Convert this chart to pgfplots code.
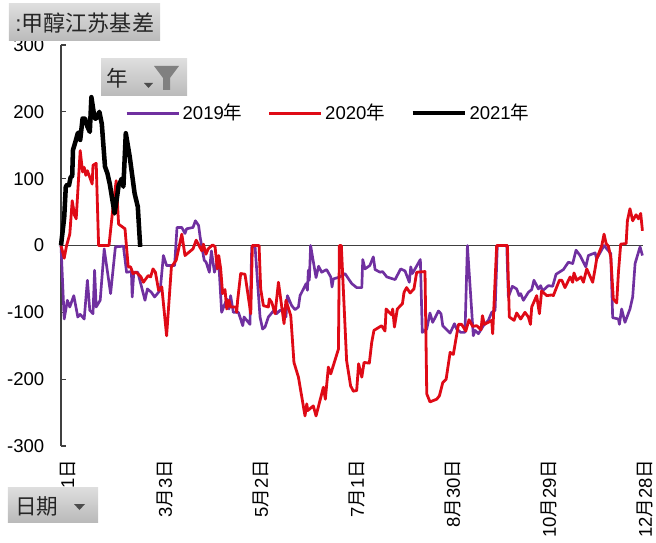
\documentclass[border=0pt]{standalone}
\usepackage{pgfplots}
\usepackage{fontspec}
\pgfplotsset{compat=1.18}
\setmainfont{Liberation Sans}
\newfontfamily\cjk{Noto Sans CJK SC}
\definecolor{pur}{HTML}{7030A0}
\definecolor{redl}{HTML}{DF0A16}
\definecolor{axc}{HTML}{404040}
\newcommand{\btn}[4]{\shade[top color=black!13,bottom color=black!27] (#1,#2) rectangle (#3,#4);}
\pgfplotstableread{
d v
0 0
2 -110
4 -82
5.5 -92
8 -75
10.5 -107
12 -103
14.5 -110
16.5 -52
18 -97
20 -102
21 -37
22 -92
24.5 -82
27 -5
31 -72
34 -2
39 -1
41 -40
44 -39
44.5 -77
45.5 -40
48 -40
52.5 -82
54 -65
56.5 -70
58.5 -77
62 -67
64 -15
66 -30
71 -30
72.5 27
75.5 27
77.5 18
78.5 25
82.5 27
84 37
86 30
87 12
89.5 -22
90.7 -25
92.7 -40
94 -8
95.9 -40
98.4 -17
100.4 -100
102.5 -87
103.6 -80
105 -95
106 -75
107.7 -100
110.9 -100
113.6 -120
114.4 -107
118.1 -118
119.2 -2
121.3 -2
124.4 -107
126 -125
127.5 -122
129.6 -107
133.8 -95
134.8 -102
136.9 -97
140 -95
140.6 -107
141.5 -75
144.2 -90
146.3 -96
148.4 -92
149.4 -75
153.2 -57
154 -67
154.6 -37
155.2 -52
156 0
159.4 -48
161 -31
162.9 -40
166 -36
168.6 -47
169.4 -62
170.2 -50
174.4 -47
177.5 -42
181.7 -57
184.8 -63
188 -63
188.6 -21
190 -35
193 -30
195.2 -17
196.3 -36
199.4 -40
201 -39
203.6 -47
208.8 -51
212.3 -35
215 -38
217.7 -55
218.6 -32
219.6 -42
224.6 -21
225.8 -130
228.6 -125
230.6 -101
232.3 -115
235.9 -98
237.5 -102
238.6 -120
243.2 -131
245.9 -117
247.3 -125
249.8 -130
252.5 -130
254 0
257.7 -135
258.8 -127
260.9 -132
264 -120
267.1 -112
269.2 -100
271.3 -97
272.7 0
278.6 0
279.6 -77
282.1 -61
284.8 -65
286.3 -75
287.3 -72
289 -82
292.1 -70
294.2 -66
295.6 -52
298.4 -65
299.8 -60
300.9 -68
304.6 -60
307.3 -61
309.4 -43
314 -36
317.1 -25
319.8 -27
321.9 -7
324.4 -15
328 -32
329.6 -15
333.8 -11
334.8 -20
339.4 0
343.6 -12
344.8 -108
348.4 -110
349 -118
350.4 -95
352.5 -115
355.6 -95
357.3 -77
358.8 -27
361.9 -2
363.4 -15
}\purpledata
\pgfplotstableread{
d v
0 0
2 -19
3.5 0
5.5 17
7 67
8.5 45
9.5 40
12 142
13.5 110
14.5 117
15.5 105
16.5 112
19.5 92
20 120
22 123
23.5 0
30 0
32.5 57
34.5 97
36 32
40 25
42 -32
43.5 -32
45 -42
47 -40
50 -47
51.5 -55
54.5 -45
56 -47
57.5 -35
59 -40
61 -67
63 -62
66 -135
69 -32
72 -22
75.5 17
77.5 -15
82.5 -5
84.5 8
88 -8
89 2
90.6 -13
92 -5
94.8 1
96.3 -2
97.7 -35
98.6 -15
99.8 -35
101 -72
102.5 -66
103.6 -95
105 -82
106 -92
109.4 -92
109.8 -100
110.4 -82
112.3 -42
115 -43
118.6 -102
119.6 0
123.8 0
124.8 -65
126.5 -90
129.6 -92
130.2 -80
131.7 -85
133.8 -102
135.9 -55
139.4 -117
140.6 -82
143.6 -105
145.6 -175
148.4 -197
152.5 -255
153.6 -237
154.2 -247
157.7 -240
159.4 -255
164 -212
165.2 -230
167.1 -182
168.6 -192
173.4 -155
174 0
175.2 0
178.5 -172
181 -210
182.7 -218
184.8 -217
186 -177
188 -197
189.4 -175
192.7 -176
194.2 -145
195.6 -127
200.4 -120
202.5 -128
203.2 -95
206.7 -104
207.3 -95
208.4 -122
210.2 -95
213.4 -87
214.4 -70
216 -63
218.2 -71
220.6 -65
222.3 -40
227.5 -39
228.6 -222
230.6 -234
234.8 -230
236.5 -225
238.6 -205
240.7 -200
243.2 -160
245.2 -163
248.4 -118
250.4 -118
253 -128
255 -111
257.3 -121
259.8 -120
262.5 -126
263.4 -105
264.6 -118
267.1 -115
269.2 -112
269.8 -132
272.3 0
279 0
280.2 -107
283.2 -112
284.8 -101
287.3 -110
290 -100
292.1 -107
293.4 -118
294.2 -92
297.3 -75
299 -102
300.4 -68
303.6 -75
306.7 -74
307.7 -75
311.5 -52
313 -52
315 -63
318.2 -47
319.8 -55
320.6 -41
322.3 -52
325 -47
326.5 -55
328.6 -35
332.3 -55
333.8 -35
334.8 -20
338 0
339.4 17
340.7 3
342.1 -1
343.6 -17
345.2 -80
347.3 -86
348.4 -40
349.8 2
353.2 3
354 37
355.6 55
357.3 37
359.4 46
360.9 40
362.3 48
363.4 22
}\reddata
\pgfplotstableread{
d v
0 0
2 42
3 88
4 91
5 90
6 102
7 104
7.5 143
9 155
10.5 168
11.5 169
12 158
13.5 190
15 190
16.5 178
18 170
19 222
21 190
22 190
24 200
25.5 182
27.5 118
29 108
30.5 92
33.5 48
35 72
36 90
38 100
39 88
40.5 168
43 132
46 78
48 58
49.5 -2
}\blackdata
\begin{document}
\begin{tikzpicture}
\path[use as bounding box] (-45.75pt,-72pt) rectangle (446.25pt,334.5pt);
\clip (-45.75pt,-72pt) rectangle (446.25pt,334.5pt);
\begin{axis}[
  at={(0pt,0pt)}, anchor=south west,
  scale only axis, width=436.8pt, height=300.75pt,
  xmin=0, xmax=364, ymin=-300, ymax=300,
  axis y line=left, axis x line=bottom,
  x axis line style={draw=none,-}, y axis line style={draw=axc,line width=1.1pt,-},
  ytick={-300,-200,-100,0,100,200,300},
  xtick={0,61,121,181,241,301,361},
  xticklabels={{1{\cjk 月}1{\cjk 日}},{3{\cjk 月}3{\cjk 日}},{5{\cjk 月}2{\cjk 日}},{7{\cjk 月}1{\cjk 日}},{8{\cjk 月}30{\cjk 日}},{10{\cjk 月}29{\cjk 日}},{12{\cjk 月}28{\cjk 日}}},
  x tick style={draw=none},
  y tick style={draw=axc,line width=0.9pt},
  major tick length=3.5pt,
  tick align=inside,
  tick pos=left,
  clip=false,
  tick label style={font=\fontsize{13.9pt}{15pt}\selectfont,text=black},
  /pgf/number format/assume math mode=true,
  yticklabel style={xshift=-9pt},
  xticklabel style={rotate=90,anchor=east,xshift=-6.7pt,yshift=-5pt},
  legend style={at={(0.110,0.83)},anchor=west,draw=none,fill=none,legend columns=3,
    font=\fontsize{13.9pt}{15pt}\selectfont,inner sep=0pt,
    /tikz/every even column/.append style={column sep=17pt}},
  legend cell align=left,
  legend image code/.code={\draw[#1] (0pt,0pt) -- (39pt,0pt);},
]
\addplot[forget plot,draw=axc,line width=0.9pt] coordinates {(0,0) (364,0)};
\addplot[pur,line width=2pt,line join=round] table[x=d,y=v] {\purpledata};
\addplot[redl,line width=2.1pt,line join=round] table[x=d,y=v] {\reddata};
\addplot[black,line width=3.4pt,line join=round] table[x=d,y=v] {\blackdata};
\legend{2019{\cjk 年},2020{\cjk 年},2021{\cjk 年}}
\end{axis}
\begin{scope}[x=0.75pt,y=-0.75pt,shift={(-45.75pt,334.5pt)}]
\btn{9}{4}{160}{41}
\node[anchor=west,inner sep=0pt,text=black!85,font=\fontsize{16.6pt}{18pt}\selectfont] at (15,23) {:{\cjk 甲醇江苏基差}};
\btn{101}{59}{187}{96}
\node[anchor=west,inner sep=0pt,text=black!85,font=\fontsize{16.2pt}{18pt}\selectfont] at (106,78) {\cjk 年};
\fill[black!70] (144,83) -- (153,83) -- (148.5,88) -- cycle;
\fill[black!50] (154,66) -- (179,66) -- (170,78) -- (170,90) -- (163,90) -- (163,78) -- cycle;
\btn{8}{487}{98}{522}
\node[anchor=west,inner sep=0pt,text=black!85,font=\fontsize{16.2pt}{18pt}\selectfont] at (15,506) {\cjk 日期};
\fill[black!70] (74,504) -- (85,504) -- (79.5,510) -- cycle;
\end{scope}
\end{tikzpicture}
\end{document}
